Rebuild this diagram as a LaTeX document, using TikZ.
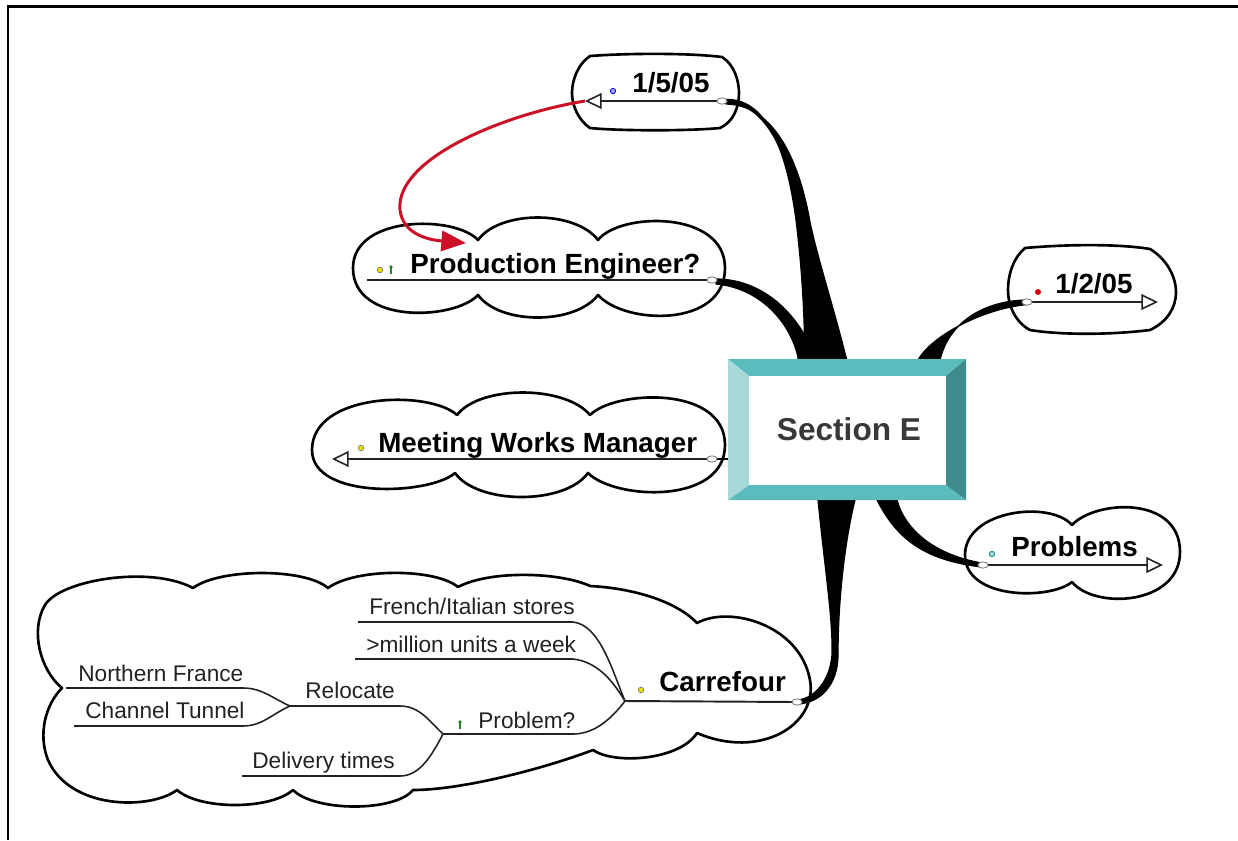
\documentclass[tikz,border=0pt]{standalone}
\usepackage{fontspec}
\setmainfont{Liberation Sans}
\usetikzlibrary{arrows.meta}

\definecolor{bevtop}{HTML}{5BBCBD}
\definecolor{bevleft}{HTML}{A7D9D9}
\definecolor{bevright}{HTML}{3F8B8D}
\definecolor{linkred}{HTML}{CC1025}
\definecolor{ink}{HTML}{222222}
\definecolor{boxink}{HTML}{383838}
\definecolor{dotyellow}{HTML}{E8E000}
\definecolor{pingreen}{HTML}{2E7D2E}
\definecolor{dotteal}{HTML}{1E9A9A}

\begin{document}
\begin{tikzpicture}[x=0.02cm, y=-0.02cm,
  cloud/.style={draw=black, line width=1.5pt, line join=round},
  branch/.style={fill=black, draw=black, line width=0.7pt, line join=round},
  spine/.style={draw=black, line width=1.5pt},
  topic/.style={font=\fontsize{15.8}{18}\selectfont\bfseries, anchor=base west, inner sep=0pt, text=black},
  subtopic/.style={font=\fontsize{12.9}{15}\selectfont, anchor=base west, inner sep=0pt, text=ink},
  topicline/.style={draw=ink, line width=1.1pt},
  subline/.style={draw=ink, line width=0.9pt},
  joint/.style={draw=gray, fill=white, line width=0.5pt},
  opentip/.style={-{Triangle[open, length=9.5pt, width=9pt, line width=0.9pt]}},
  ydot/.style={fill=dotyellow, draw=black!60, line width=0.3pt}
]
\useasboundingbox (0,0) rectangle (1238,840);

% frame
\draw[line width=1.7pt] (8,840) -- (8,6) -- (1238,6);

% ---------- outlines of the topic bubbles ----------
% 1/5/05
\draw[cloud] (590,56) .. controls (630,53) and (690,53) .. (722,57)
  .. controls (735,65) and (739,82) .. (739,93)
  .. controls (739,108) and (733,122) .. (720,128)
  .. controls (690,131) and (620,131) .. (590,128)
  .. controls (578,120) and (572,105) .. (572,93)
  .. controls (572,80) and (578,64) .. (590,56) -- cycle;
% 1/2/05
\draw[cloud] (1025,248) .. controls (1070,244) and (1120,244) .. (1150,249)
  .. controls (1168,260) and (1176,278) .. (1176,292)
  .. controls (1176,308) and (1167,322) .. (1150,330)
  .. controls (1110,335) and (1060,335) .. (1030,330)
  .. controls (1015,322) and (1008,305) .. (1008,290)
  .. controls (1008,275) and (1013,258) .. (1025,248) -- cycle;
% Production Engineer?
\draw[cloud] (478,240) .. controls (500,210) and (575,210) .. (598,240)
  .. controls (620,212) and (725,210) .. (725,268)
  .. controls (725,328) and (625,325) .. (598,295)
  .. controls (575,325) and (500,325) .. (478,295)
  .. controls (455,320) and (353,325) .. (353,268)
  .. controls (353,215) and (455,215) .. (478,240) -- cycle;
% Meeting Works Manager
\draw[cloud] (457,415) .. controls (480,385) and (565,385) .. (590,415)
  .. controls (615,390) and (725,385) .. (725,445)
  .. controls (725,505) and (615,500) .. (588,473)
  .. controls (565,505) and (478,505) .. (455,473)
  .. controls (430,495) and (312,500) .. (312,450)
  .. controls (312,392) and (430,390) .. (457,415) -- cycle;
% Problems
\draw[cloud] (1072,525) .. controls (1095,500) and (1180,495) .. (1180,552)
  .. controls (1180,605) and (1095,610) .. (1072,582)
  .. controls (1050,600) and (965,600) .. (965,555)
  .. controls (965,510) and (1050,500) .. (1072,525) -- cycle;
% Carrefour
\draw[cloud] (62,688) .. controls (40,670) and (30,630) .. (45,605)
  .. controls (60,580) and (150,565) .. (193,588)
  .. controls (220,568) and (305,568) .. (328,588)
  .. controls (355,568) and (435,568) .. (458,587)
  .. controls (490,570) and (560,572) .. (590,586)
  .. controls (630,588) and (675,600) .. (697,623)
  .. controls (730,605) and (800,625) .. (810,680)
  .. controls (818,725) and (760,760) .. (697,733)
  .. controls (680,760) and (615,765) .. (593,750)
  .. controls (540,770) and (460,790) .. (413,790)
  .. controls (395,812) and (315,812) .. (293,790)
  .. controls (270,810) and (200,810) .. (177,790)
  .. controls (150,810) and (70,810) .. (48,760)
  .. controls (38,735) and (45,705) .. (62,688) -- cycle;

% ---------- joints on the topic lines ----------
\coordinate (j105) at (722,101);
\coordinate (jpe) at (712,280);
\coordinate (jmwm) at (712,459);
\coordinate (j102) at (1027,302);
\coordinate (jprob) at (983,565);
\coordinate (jcar) at (797,702);
\coordinate (boxW) at (745,459);
\coordinate (boxN) at (830,420);

% ---------- tapered branches from the central box ----------
\fill[branch] (726,99.5) .. controls (770,98) and (788,160) .. (796,220)
  .. controls (802,270) and (806,320) .. (805,420) -- (860,420)
  .. controls (845,340) and (820,270) .. (810,222)
  .. controls (800,165) and (776,105) .. (726,104) -- cycle;
\draw[spine] (j105) .. controls (770,100) and (791,162) .. (801,222)
  .. controls (808,275) and (818,330) .. (boxN);
\fill[branch] (716,279) .. controls (760,279) and (795,310) .. (812,350)
  -- (825,420) -- (795,420) -- (798,357)
  .. controls (790,322) and (760,288) .. (716,284) -- cycle;
\fill[branch] (1028,300) .. controls (990,300) and (950,318) .. (940,360)
  -- (930,420) -- (900,420) -- (918,360)
  .. controls (932,335) and (985,308) .. (1028,304.5) -- cycle;
\fill[branch] (815,440) -- (818,500) .. controls (825,570) and (833,620) .. (832,655)
  .. controls (830,680) and (815,698) .. (798,700) -- (798,704)
  .. controls (820,703) and (838,685) .. (838,655)
  .. controls (838,600) and (845,540) .. (855,500) -- (860,440) -- cycle;
\fill[branch] (870,460) -- (877,500) .. controls (895,535) and (920,560) .. (982,567)
  -- (982,563) .. controls (935,555) and (905,530) .. (897,500) -- (900,460) -- cycle;
\draw[line width=1.4pt] (jmwm) -- (boxW);

% ---------- topic lines ----------
\coordinate (a105) at (585,101);
\coordinate (ape) at (367,280);
\coordinate (amwm) at (332,459);
\coordinate (a102) at (1158,302);
\coordinate (aprob) at (1163,565);
\coordinate (nCar) at (625,701);

\draw[topicline, opentip] (j105) -- (a105);
\draw[topicline] (jpe) -- (ape);
\draw[topicline, opentip] (jmwm) -- (amwm);
\draw[topicline, opentip] (j102) -- (a102);
\draw[topicline, opentip] (jprob) -- (aprob);
\draw[topicline] (jcar) -- (nCar);

% ---------- Carrefour sub-tree ----------
\coordinate (nProb) at (443,734);
\coordinate (nReloc) at (290,706);
\coordinate (eFrench) at (358,622);
\coordinate (eMillion) at (355,659);
\coordinate (eDelivery) at (242,776);
\coordinate (eNorth) at (66,688);
\coordinate (eTunnel) at (74,726);

\draw[subline] (nCar) .. controls (612,670) and (600,625) .. (573,622) -- (eFrench);
\draw[subline] (nCar) .. controls (615,685) and (600,662) .. (573,659) -- (eMillion);
\draw[subline] (nCar) .. controls (612,718) and (595,734) .. (573,734) -- (nProb);
\draw[subline] (nProb) .. controls (430,722) and (420,706) .. (400,706) -- (nReloc);
\draw[subline] (nProb) .. controls (432,755) and (420,776) .. (400,776) -- (eDelivery);
\draw[subline] (nReloc) .. controls (272,698) and (262,688) .. (243,688) -- (eNorth);
\draw[subline] (nReloc) .. controls (272,714) and (262,726) .. (243,726) -- (eTunnel);

% joints drawn over the lines
\foreach \j in {j105,jpe,jmwm,j102,jprob,jcar}
  \draw[joint] (\j) ellipse[x radius=2.9pt, y radius=1.8pt];

% ---------- labels ----------
\node[topic] (t105) at (632,92) {1/5/05};
\node[topic] (tpe) at (410,273) {Production Engineer?};
\node[topic] (tmwm) at (378,452) {Meeting Works Manager};
\node[topic] (t102) at (1055,293) {1/2/05};
\node[topic] (tprob) at (1011,556) {Problems};
\node[topic] (tcar) at (659,691) {Carrefour};

\node[subtopic] (sFrench) at (369,614) {French/Italian stores};
\node[subtopic] (sMillion) at (366,652) {>million units a week};
\node[subtopic] (sProb) at (478,728) {Problem?};
\node[subtopic] (sReloc) at (305,698) {Relocate};
\node[subtopic] (sDelivery) at (252,768) {Delivery times};
\node[subtopic] (sNorth) at (78,681) {Northern France};
\node[subtopic] (sTunnel) at (85,718) {Channel Tunnel};

% ---------- small markers ----------
\draw[draw=blue, fill=blue!35, line width=0.5pt] (613,91) circle (1.5pt);
\fill[red!85!black] (1038,292) circle (1.7pt);
\draw[draw=dotteal, fill=dotteal!35, line width=0.6pt] (992,554) circle (1.5pt);
\draw[ydot] (380,270) circle (1.6pt);
\draw[ydot] (361,448) circle (1.6pt);
\draw[ydot] (641,690) circle (1.6pt);
\foreach \px/\py in {391/270, 460/725}{
  \draw[pingreen, line width=0.7pt] (\px,\py-4) -- (\px,\py+4);
  \fill[pingreen] (\px,\py-3) circle (1.1pt);
}

% ---------- central box ----------
\fill[bevtop] (728,359) -- (966,359) -- (946,376) -- (749,376) -- cycle;
\fill[bevtop] (728,500) -- (966,500) -- (946,485) -- (749,485) -- cycle;
\fill[bevleft] (728,359) -- (749,376) -- (749,485) -- (728,500) -- cycle;
\fill[bevright] (966,359) -- (946,376) -- (946,485) -- (966,500) -- cycle;
\fill[white] (749,376) rectangle (946,485);
\node[font=\fontsize{18}{20}\selectfont\bfseries, text=boxink, anchor=base, inner sep=0pt] (central) at (849,440) {Section E};

% ---------- red relation link ----------
\draw[linkred, line width=1.7pt, -{Triangle[length=14pt, width=11.5pt]}]
  (a105) .. controls (500,115) and (395,160) .. (400,210)
  .. controls (403,235) and (430,240) .. (466,243);
\end{tikzpicture}
\end{document}
